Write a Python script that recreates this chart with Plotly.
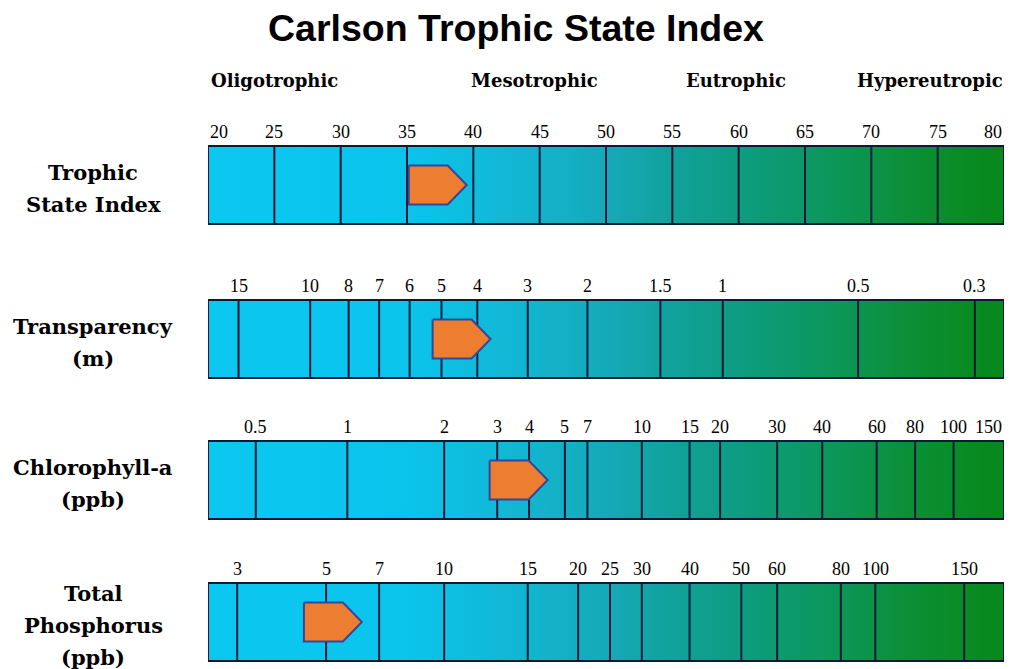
import plotly.graph_objects as go

# ── Data (positions in TSI units) ────────────────────────────────────────────
ROW_NAMES = [["Trophic", "State Index"],
             ["Transparency", "(m)"],
             ["Chlorophyll-a", "(ppb)"],
             ["Total", "Phosphorus", "(ppb)"]]

TSI_LABELS = ["20", "25", "30", "35", "40", "45", "50", "55", "60", "65", "70", "75", "80"]
TSI_POS = [20, 25, 30, 35, 40, 45, 50, 55, 60, 65, 70, 75, 80]

SD_LABELS = ["15", "10", "8", "7", "6", "5", "4", "3", "2", "1.5", "1", "0.5", "0.3"]
SD_POS = [22.3, 27.7, 30.6, 32.9, 35.2, 37.6, 40.3, 44.1, 48.6, 54.1, 58.8, 69.0, 77.8]

CHL_LABELS = ["0.5", "1", "2", "3", "4", "5", "7", "10", "15", "20", "30", "40",
              "60", "80", "100", "150"]
CHL_POS = [23.6, 30.5, 37.8, 41.8, 44.2, 46.9, 48.6, 52.7, 56.3, 58.6, 62.9, 66.3,
           70.4, 73.3, 76.2, 80]

TP_LABELS = ["3", "5", "7", "10", "15", "20", "25", "30", "40", "50", "60", "80", "100", "150"]
TP_POS = [22.2, 28.9, 32.9, 37.8, 44.1, 47.9, 50.3, 52.7, 56.3, 60.2, 62.9, 67.7, 70.3, 77.0]

STATES = ["Oligotrophic", "Mesotrophic", "Eutrophic", "Hypereutropic"]
STATE_POS = [20.1, 39.7, 55.9, 68.8]

# arrow tip for each row (TSI units)
ARROW_TIP = [39.5, 41.3, 45.6, 31.6]

# ── Style / layout (pixel values as seen on screen; page body has 8px margin) ─
OFF = 8
W, H = 1016 - OFF, 669 - OFF
L_PX, R_PX = 208 - OFF, 1004 - OFF
ROW_TOP = [146 - OFF, 300 - OFF, 441 - OFF, 583 - OFF]
BAR_H = 78
NAVY = "#0B1A38"
ORANGE = "#ED7D31"
ARROW_EDGE = "#34479A"
SERIF = "Liberation Serif"
BOLD_SERIF = "DejaVu Serif"
GRADIENT = [
    [0.00, "rgb(12,200,240)"],
    [0.25, "rgb(10,196,236)"],
    [0.37, "rgb(18,184,214)"],
    [0.50, "rgb(20,170,185)"],
    [0.60, "rgb(16,160,150)"],
    [0.70, "rgb(12,155,118)"],
    [0.80, "rgb(12,150,85)"],
    [0.90, "rgb(10,142,48)"],
    [1.00, "rgb(8,136,26)"],
]

rows = [(TSI_LABELS, TSI_POS), (SD_LABELS, SD_POS), (CHL_LABELS, CHL_POS), (TP_LABELS, TP_POS)]


def px_to_paper(px):
    return (px - OFF - L_PX) / (R_PX - L_PX)


fig = go.Figure()
annotations = []

for i, (labels, pos) in enumerate(rows):
    top, bot = ROW_TOP[i], ROW_TOP[i] + BAR_H
    mid = (top + bot) / 2

    # gradient band
    fig.add_trace(go.Scatter(
        x=[20, 80, 80, 20, 20], y=[top, top, bot, bot, top],
        mode="lines", fill="toself",
        fillgradient=dict(type="horizontal", colorscale=GRADIENT),
        line=dict(color=NAVY, width=2), hoverinfo="skip", showlegend=False,
    ))

    # dividers
    xs, ys = [], []
    for p in pos:
        if 20 < p < 80:
            xs += [p, p, None]
            ys += [top, bot, None]
    fig.add_trace(go.Scatter(
        x=xs, y=ys, mode="lines",
        line=dict(color=NAVY, width=2), hoverinfo="skip", showlegend=False,
    ))

    # tick labels
    for lab, p in zip(labels, pos):
        anchor = "center"
        if p <= 20:
            anchor = "left"
        elif p >= 80:
            anchor = "right"
        annotations.append(dict(
            x=p, y=top - 14, xref="x", yref="y", text=lab, showarrow=False,
            xanchor=anchor, yanchor="middle",
            font=dict(family=SERIF, size=18, color="black"),
        ))

    # arrow (pentagon pointing right)
    tip = ARROW_TIP[i]
    left, shoulder = tip - 4.37, tip - 1.43
    fig.add_trace(go.Scatter(
        x=[left, shoulder, tip, shoulder, left, left],
        y=[mid - 19.5, mid - 19.5, mid, mid + 19.5, mid + 19.5, mid - 19.5],
        mode="lines", fill="toself", fillcolor=ORANGE,
        line=dict(color=ARROW_EDGE, width=2), hoverinfo="skip", showlegend=False,
    ))

    # row names on the left
    names = ROW_NAMES[i]
    spacing = 32
    for j, name in enumerate(names):
        annotations.append(dict(
            x=px_to_paper(93), y=mid + 3 + (j - (len(names) - 1) / 2) * spacing,
            xref="paper", yref="y", text=f"<b>{name}</b>", showarrow=False,
            xanchor="center", yanchor="middle",
            font=dict(family=BOLD_SERIF, size=21, color="black"),
        ))

# trophic state headings
for name, p in zip(STATES, STATE_POS):
    annotations.append(dict(
        x=p, y=80 - OFF, xref="x", yref="y", text=f"<b>{name}</b>", showarrow=False,
        xanchor="left", yanchor="middle",
        font=dict(family=BOLD_SERIF, size=18, color="black"),
    ))

fig.update_layout(
    width=W, height=H,
    margin=dict(l=L_PX, r=W - R_PX, t=0, b=0),
    paper_bgcolor="white", plot_bgcolor="white",
    title=dict(
        text="<b>Carlson Trophic State Index</b>",
        x=(516 - OFF) / W, xref="container", xanchor="center",
        y=1 - (28 - OFF) / H, yref="container", yanchor="middle",
        font=dict(family="Liberation Sans", size=37.5, color="black"),
    ),
    xaxis=dict(range=[20, 80], visible=False, fixedrange=True),
    yaxis=dict(range=[H, 0], visible=False, fixedrange=True),
    annotations=annotations,
    showlegend=False,
)

fig.write_html("out.html")
